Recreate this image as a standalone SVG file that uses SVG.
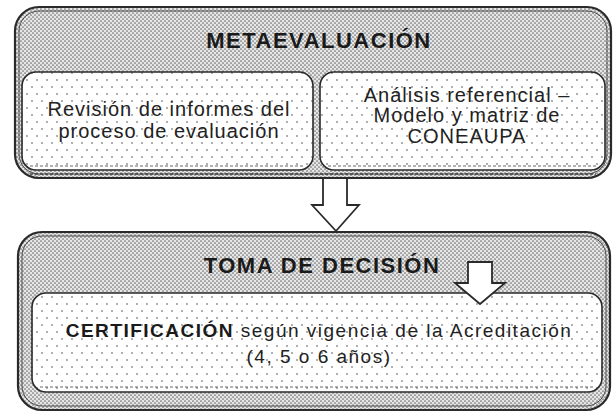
<svg xmlns="http://www.w3.org/2000/svg" width="615" height="417" viewBox="0 0 615 417">
  <defs>
    <pattern id="dense" width="4" height="4" patternUnits="userSpaceOnUse">
      <rect width="4" height="4" fill="#e6e6e6"/>
      <circle cx="1" cy="1" r="0.85" fill="#6e6e6e"/>
      <circle cx="3" cy="3" r="0.85" fill="#6e6e6e"/>
    </pattern>
    <pattern id="sparse" width="10" height="14" patternUnits="userSpaceOnUse">
      <rect width="10" height="14" fill="#ffffff"/>
      <circle cx="2" cy="3" r="0.9" fill="#8a8a8a"/>
      <circle cx="7" cy="10" r="0.9" fill="#8a8a8a"/>
    </pattern>
  </defs>
  <style>
    .outer { fill: url(#dense); stroke: #2a2a2a; stroke-width: 2.2; }
    .outer-in { fill: none; stroke: #4a4a4a; stroke-width: 1; }
    .inner { fill: url(#sparse); stroke: #2a2a2a; stroke-width: 1.6; }
    .hatch { fill: none; stroke: #444; stroke-width: 1.6; stroke-dasharray: 3 2; }
    .title { font-family: "Liberation Sans", Arial, sans-serif; font-weight: bold; font-size: 22px; fill: #1a1a1a; text-anchor: middle; letter-spacing: 1.5px; }
    .txt { font-family: "Liberation Sans", Arial, sans-serif; font-size: 20px; fill: #222; text-anchor: middle; letter-spacing: 1px; }
    .txt2 { font-family: "Liberation Sans", Arial, sans-serif; font-size: 19px; fill: #222; text-anchor: middle; letter-spacing: 1.5px; }
    .arrow { fill: #ffffff; stroke: #2a2a2a; stroke-width: 1.8; stroke-linejoin: miter; }
  </style>

  <g id="node-metaevaluacion">
    <rect class="outer" x="15" y="7" width="596" height="171" rx="24"/>
    <rect class="outer-in" x="19" y="11" width="588" height="163" rx="20"/>
    <line class="hatch" x1="30" y1="174" x2="596" y2="174"/>
    <text class="title" x="319" y="48">METAEVALUACIÓN</text>
  </g>

  <g id="node-revision">
    <rect class="inner" x="22" y="72" width="291" height="98" rx="14"/>
    <line class="hatch" x1="30" y1="166" x2="305" y2="166" style="stroke-width:1;stroke:#666"/>
    <text class="txt" x="169" y="116">Revisión de informes del</text>
    <text class="txt" x="169" y="138">proceso de evaluación</text>
  </g>

  <g id="node-analisis">
    <rect class="inner" x="320" y="72" width="285" height="98" rx="14"/>
    <line class="hatch" x1="328" y1="166" x2="597" y2="166" style="stroke-width:1;stroke:#666"/>
    <text class="txt" x="467" y="102">Análisis referencial –</text>
    <text class="txt" x="467" y="122">Modelo y matriz de</text>
    <text class="txt" x="467" y="143">CONEAUPA</text>
  </g>

  <g id="node-toma-decision">
    <rect class="outer" x="18" y="232" width="592" height="178" rx="24"/>
    <rect class="outer-in" x="22" y="236" width="584" height="170" rx="20"/>
    <text class="title" x="322" y="273">TOMA DE DECISIÓN</text>
  </g>

  <g id="node-certificacion">
    <rect class="inner" x="32" y="293" width="570" height="99" rx="14"/>
    <line class="hatch" x1="40" y1="387" x2="594" y2="387" style="stroke-width:1;stroke:#666"/>
    <text class="txt2" x="319" y="337"><tspan font-weight="bold" fill="#1a1a1a">CERTIFICACIÓN</tspan> según vigencia de la Acreditación</text>
    <text class="txt2" x="319" y="363">(4, 5 o 6 años)</text>
  </g>

  <g id="connectors">
    <path class="arrow" d="M323,178 L347,178 L347,205 L359,205 L336,231 L312,205 L323,205 Z"/>
    <path class="arrow" d="M468,262 L492,262 L492,283 L505,283 L480,304 L455,283 L468,283 Z"/>
  </g>
</svg>
